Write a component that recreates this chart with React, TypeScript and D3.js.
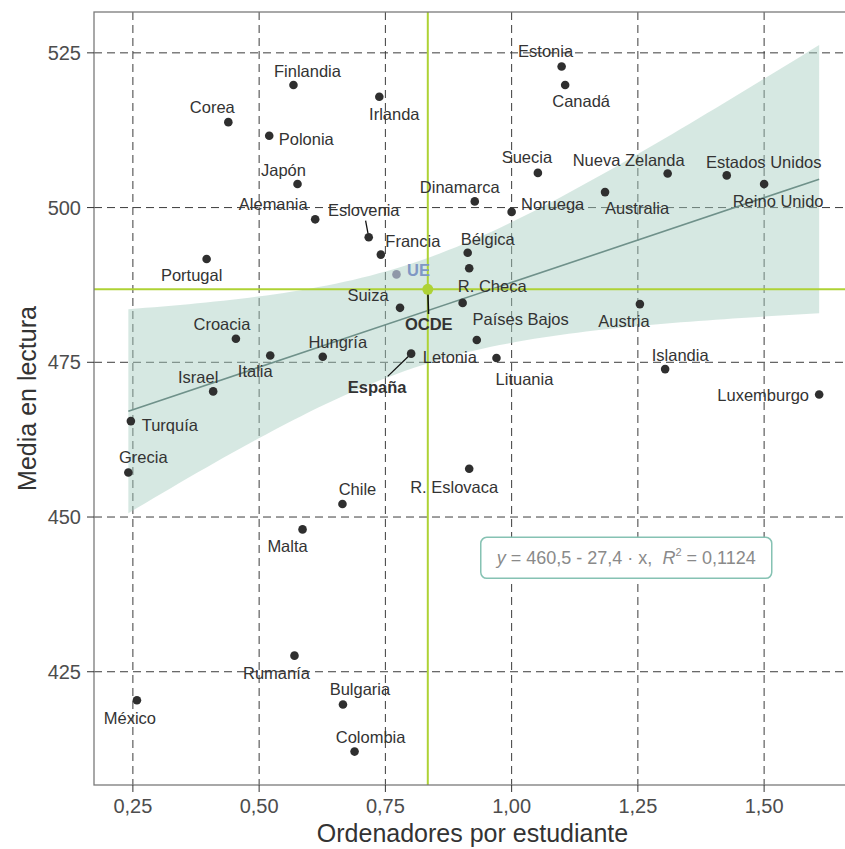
import React from "react";
import * as d3 from "d3";

// ---- data ----
const countries = [
  "Finlandia","Irlanda","Corea","Polonia","Japón","Alemania","Eslovenia","Francia","Portugal",
  "Estonia","Canadá","Suecia","Nueva Zelanda","Estados Unidos","Reino Unido","Australia","Dinamarca",
  "Noruega","Bélgica","R. Checa","Países Bajos","Letonia","Lituania","Suiza","Croacia","Italia",
  "Hungría","Israel","España","Turquía","Grecia","Chile","R. Eslovaca","Austria","Islandia",
  "Luxemburgo","Malta","Rumanía","México","Bulgaria","Colombia"
];
const computers = [
  0.568,0.738,0.439,0.520,0.576,0.611,0.717,0.741,0.396,
  1.099,1.106,1.052,1.309,1.426,1.500,1.185,0.927,
  1.000,0.913,0.916,0.903,0.931,0.970,0.779,0.454,0.522,
  0.626,0.409,0.801,0.246,0.241,0.665,0.916,1.254,1.304,
  1.609,0.586,0.570,0.258,0.666,0.689
];
const reading = [
  519.8,517.9,513.8,511.6,503.8,498.1,495.2,492.4,491.7,
  522.8,519.8,505.6,505.5,505.2,503.8,502.5,501.0,
  499.3,492.7,490.2,484.6,478.6,475.7,483.8,478.8,476.1,
  475.9,470.3,476.4,465.5,457.2,452.1,457.8,484.4,473.9,
  469.8,448.0,427.6,420.4,419.7,412.1
];
const ueValue = { x: 0.772, y: 489.2 };
const ocdeValue = { x: 0.834, y: 486.8 };
const intercept = 460.5;
const slope = 27.4;
const xTicks = [0.25, 0.5, 0.75, 1.0, 1.25, 1.5];
const yTicks = [425, 450, 475, 500, 525];

// ---- layout (label offsets in px relative to point) ----
const labelOffsets: Record<string, [number, number, boolean?]> = {
  "Finlandia": [14, -14], "Irlanda": [15, 17], "Corea": [-16, -15], "Polonia": [37, 3],
  "Japón": [-14, -14], "Alemania": [-42, -15], "Eslovenia": [-5, -27, true], "Francia": [32, -14],
  "Portugal": [-15, 16], "Estonia": [-16, -15], "Canadá": [16, 16], "Suecia": [-11, -16],
  "Nueva Zelanda": [-39, -13], "Estados Unidos": [37, -13], "Reino Unido": [14, 17],
  "Australia": [32, 16], "Dinamarca": [-15, -14], "Noruega": [41, -8], "Bélgica": [20, -14],
  "R. Checa": [23, 18], "Países Bajos": [58, 16], "Letonia": [-27, 17], "Lituania": [28, 21],
  "Suiza": [-32, -13], "Croacia": [-14, -15], "Italia": [-15, 16], "Hungría": [15, -15],
  "Israel": [-15, -14], "España": [-34, 33, true], "Turquía": [39, 4], "Grecia": [15, -15],
  "Chile": [15, -15], "R. Eslovaca": [-15, 18], "Austria": [-16, 17], "Islandia": [15, -14],
  "Luxemburgo": [-56, 1], "Malta": [-15, 17], "Rumanía": [-18, 17], "México": [-7, 18],
  "Bulgaria": [17, -15], "Colombia": [16, -15],
};
const boldLabels = new Set(["España"]);

const W = 845, H = 849;
const LEFT = 94, RIGHT = 853, TOP = 12, BOTTOM = 785;
const FONT = "'Liberation Sans', Arial, Helvetica, sans-serif";

function approxWidth(s: string, fs: number) {
  return s.length * fs * 0.52;
}

function leader(lx: number, ly: number, px: number, py: number, w: number, h: number) {
  const dx = px - lx, dy = py - ly;
  const hw = w / 2 + 2, hh = h / 2 + 2;
  const tx = dx !== 0 ? hw / Math.abs(dx) : Infinity;
  const ty = dy !== 0 ? hh / Math.abs(dy) : Infinity;
  const t = Math.min(tx, ty);
  const len = Math.hypot(dx, dy);
  return {
    x1: lx + dx * t, y1: ly + dy * t,
    x2: px - (dx / len) * 4, y2: py - (dy / len) * 4,
  };
}

export default function App() {
  const x = d3.scaleLinear().domain([0.173, 1.676]).range([LEFT, RIGHT]);
  const y = d3.scaleLinear().domain([406.7, 531.6]).range([BOTTOM, TOP]);

  // confidence band (95%) around the fitted line
  const n = computers.length;
  const xbar = d3.mean(computers)!;
  const sxx = d3.sum(computers, (v) => (v - xbar) ** 2);
  const sse = d3.sum(computers, (v, i) => (reading[i] - (intercept + slope * v)) ** 2);
  const s = Math.sqrt(sse / (n - 2));
  const tq = 2.023;
  const xmin = d3.min(computers)!, xmax = d3.max(computers)!;
  const grid = d3.range(0, 81).map((i) => xmin + ((xmax - xmin) * i) / 80);
  const bandData = grid.map((v) => {
    const fit = intercept + slope * v;
    const se = s * Math.sqrt(1 / n + (v - xbar) ** 2 / sxx);
    return { x: v, lo: fit - tq * se, hi: fit + tq * se };
  });
  const area = d3.area<{ x: number; lo: number; hi: number }>()
    .x((d) => x(d.x)).y0((d) => y(d.lo)).y1((d) => y(d.hi));
  const line = d3.line<number>().x((v) => x(v)).y((v) => y(intercept + slope * v));

  const labelFs = 16.5;
  const green = "#aed235";

  const eqCx = x(1.227), eqCy = y(443.4);

  return (
    <svg width={W} height={H} style={{ position: "absolute", left: 0, top: 0, background: "#fff" }}
      fontFamily={FONT}>
      <defs>
        <clipPath id="panel"><rect x={LEFT} y={TOP} width={RIGHT - LEFT} height={BOTTOM - TOP} /></clipPath>
      </defs>
      <rect x={0} y={0} width={W} height={H} fill="#fff" />
      {/* grid */}
      <g clipPath="url(#panel)">
        {xTicks.map((t) => (
          <line key={"gx" + t} x1={x(t)} x2={x(t)} y1={TOP} y2={BOTTOM} stroke="#3c3c3c" strokeWidth={1} strokeDasharray="8,5" />
        ))}
        {yTicks.map((t) => (
          <line key={"gy" + t} x1={LEFT} x2={RIGHT} y1={y(t)} y2={y(t)} stroke="#3c3c3c" strokeWidth={1} strokeDasharray="8,5" />
        ))}
        {/* band */}
        <path d={area(bandData)!} fill="#a3cdbf" fillOpacity={0.45} />
        <path d={line([xmin, xmax])!} fill="none" stroke="#6f918a" strokeWidth={1.6} />
        {/* OCDE reference lines */}
        <line x1={x(ocdeValue.x)} x2={x(ocdeValue.x)} y1={TOP} y2={BOTTOM} stroke={green} strokeWidth={2} />
        <line x1={LEFT} x2={RIGHT} y1={y(ocdeValue.y)} y2={y(ocdeValue.y)} stroke={green} strokeWidth={2} />
      </g>
      {/* panel border */}
      <rect x={LEFT} y={TOP} width={RIGHT - LEFT} height={BOTTOM - TOP} fill="none" stroke="#7a7a7a" strokeWidth={1.3} />
      {/* axes ticks */}
      {xTicks.map((t) => (
        <g key={"xt" + t}>
          <line x1={x(t)} x2={x(t)} y1={BOTTOM} y2={BOTTOM + 7} stroke="#333" strokeWidth={1} />
          <text x={x(t)} y={813} textAnchor="middle" fontSize={20} fill="#4d4d4d">
            {d3.format(".2f")(t).replace(".", ",")}
          </text>
        </g>
      ))}
      {yTicks.map((t) => (
        <g key={"yt" + t}>
          <line x1={LEFT - 7} x2={LEFT} y1={y(t)} y2={y(t)} stroke="#333" strokeWidth={1} />
          <text x={81} y={y(t)} dy="0.36em" textAnchor="end" fontSize={20} fill="#4d4d4d">{t}</text>
        </g>
      ))}
      <text x={(LEFT + 845) / 2 + 3} y={842} textAnchor="middle" fontSize={25} fill="#333">Ordenadores por estudiante</text>
      <text transform={`translate(36,${(TOP + BOTTOM) / 2}) rotate(-90)`} textAnchor="middle" fontSize={25} fill="#333">Media en lectura</text>

      {/* leader lines */}
      {countries.map((c, i) => {
        const off = labelOffsets[c];
        if (!off || !off[2]) return null;
        const px = x(computers[i]), py = y(reading[i]);
        const fs = labelFs;
        const l = leader(px + off[0], py + off[1], px, py, approxWidth(c, fs), fs);
        return <line key={"ld" + c} {...l} stroke="#111" strokeWidth={1.3} />;
      })}
      {(() => {
        const px = x(ocdeValue.x), py = y(ocdeValue.y);
        const l = leader(px + 1, py + 35, px, py, 50, labelFs);
        return <line {...l} stroke="#111" strokeWidth={1.6} />;
      })()}

      {/* points */}
      {countries.map((c, i) => (
        <circle key={"p" + c} cx={x(computers[i])} cy={y(reading[i])} r={4.3} fill="#2f2f2f" />
      ))}
      <circle cx={x(ueValue.x)} cy={y(ueValue.y)} r={4.3} fill="#8f98a8" />
      <circle cx={x(ocdeValue.x)} cy={y(ocdeValue.y)} r={5.5} fill={green} />

      {/* labels */}
      {countries.map((c, i) => {
        const off = labelOffsets[c] || [0, -14];
        return (
          <text key={"l" + c} x={x(computers[i]) + off[0]} y={y(reading[i]) + off[1]} dy="0.36em"
            textAnchor="middle" fontSize={labelFs} fill="#333" fontWeight={boldLabels.has(c) ? "bold" : "normal"}>
            {c}
          </text>
        );
      })}
      <text x={x(ueValue.x) + 22} y={y(ueValue.y) - 4} dy="0.36em" textAnchor="middle" fontSize={labelFs}
        fontWeight="bold" fill="#7f97c4">UE</text>
      <text x={x(ocdeValue.x) + 1} y={y(ocdeValue.y) + 35} dy="0.36em" textAnchor="middle" fontSize={labelFs}
        fontWeight="bold" fill="#333">OCDE</text>

      {/* equation */}
      <rect x={eqCx - 145.5} y={eqCy - 20.5} width={291} height={41} rx={6} fill="#fff" stroke="#86c2b3" strokeWidth={1.5} />
      <text x={eqCx} y={eqCy} dy="0.36em" textAnchor="middle" fontSize={18} fill="#8a8a8a" xmlSpace="preserve">
        <tspan fontStyle="italic">y</tspan>
        <tspan>{" = 460,5 - 27,4 · x,  "}</tspan>
        <tspan fontStyle="italic">R</tspan>
        <tspan fontSize={11} dy="-8">2</tspan>
        <tspan dy="8">{" = 0,1124"}</tspan>
      </text>
    </svg>
  );
}
